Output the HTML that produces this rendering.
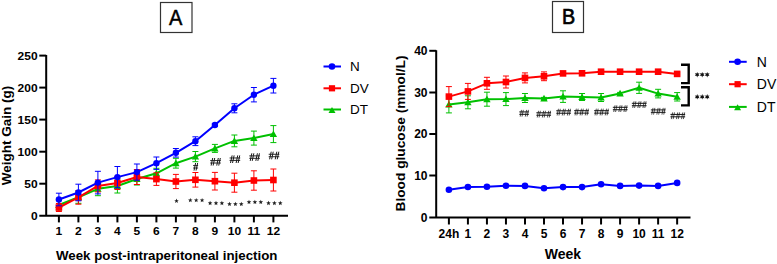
<!DOCTYPE html>
<html><head><meta charset="utf-8"><style>
html,body{margin:0;padding:0;background:#fff;}
svg{display:block;}
text{font-family:"Liberation Sans",sans-serif;fill:#000;}
.tk{font-size:12px;font-weight:bold;}
.ttl{font-size:13px;font-weight:bold;}
.lg{font-size:13.5px;}
.hs{font-size:10px;font-weight:bold;}
.hb{font-size:9px;font-weight:bold;}
.as{font-size:14px;}
.ab{font-size:14px;font-weight:bold;}
.box{font-size:21px;}
</style></head><body>
<svg width="777" height="264" viewBox="0 0 777 264">
<path d="M46.2 55 V215.7 M39.3 215.7 H288" stroke="#000" stroke-width="2" fill="none"/><line x1="39.3" y1="55.6" x2="46.2" y2="55.6" stroke="#000" stroke-width="2"/><text transform="translate(37.6,59.6) scale(1,0.9)" class="tk" text-anchor="end">250</text><line x1="39.3" y1="87.6" x2="46.2" y2="87.6" stroke="#000" stroke-width="2"/><text transform="translate(37.6,91.6) scale(1,0.9)" class="tk" text-anchor="end">200</text><line x1="39.3" y1="119.6" x2="46.2" y2="119.6" stroke="#000" stroke-width="2"/><text transform="translate(37.6,123.6) scale(1,0.9)" class="tk" text-anchor="end">150</text><line x1="39.3" y1="151.7" x2="46.2" y2="151.7" stroke="#000" stroke-width="2"/><text transform="translate(37.6,155.7) scale(1,0.9)" class="tk" text-anchor="end">100</text><line x1="39.3" y1="183.7" x2="46.2" y2="183.7" stroke="#000" stroke-width="2"/><text transform="translate(37.6,187.7) scale(1,0.9)" class="tk" text-anchor="end">50</text><text transform="translate(37.6,219.7) scale(1,0.9)" class="tk" text-anchor="end">0</text><line x1="58.90" y1="215.7" x2="58.90" y2="222.4" stroke="#000" stroke-width="2"/><text transform="translate(58.90,235.0) scale(1,0.9)" class="tk" text-anchor="middle">1</text><line x1="78.40" y1="215.7" x2="78.40" y2="222.4" stroke="#000" stroke-width="2"/><text transform="translate(78.40,235.0) scale(1,0.9)" class="tk" text-anchor="middle">2</text><line x1="97.90" y1="215.7" x2="97.90" y2="222.4" stroke="#000" stroke-width="2"/><text transform="translate(97.90,235.0) scale(1,0.9)" class="tk" text-anchor="middle">3</text><line x1="117.40" y1="215.7" x2="117.40" y2="222.4" stroke="#000" stroke-width="2"/><text transform="translate(117.40,235.0) scale(1,0.9)" class="tk" text-anchor="middle">4</text><line x1="136.90" y1="215.7" x2="136.90" y2="222.4" stroke="#000" stroke-width="2"/><text transform="translate(136.90,235.0) scale(1,0.9)" class="tk" text-anchor="middle">5</text><line x1="156.40" y1="215.7" x2="156.40" y2="222.4" stroke="#000" stroke-width="2"/><text transform="translate(156.40,235.0) scale(1,0.9)" class="tk" text-anchor="middle">6</text><line x1="175.90" y1="215.7" x2="175.90" y2="222.4" stroke="#000" stroke-width="2"/><text transform="translate(175.90,235.0) scale(1,0.9)" class="tk" text-anchor="middle">7</text><line x1="195.40" y1="215.7" x2="195.40" y2="222.4" stroke="#000" stroke-width="2"/><text transform="translate(195.40,235.0) scale(1,0.9)" class="tk" text-anchor="middle">8</text><line x1="214.90" y1="215.7" x2="214.90" y2="222.4" stroke="#000" stroke-width="2"/><text transform="translate(214.90,235.0) scale(1,0.9)" class="tk" text-anchor="middle">9</text><line x1="234.40" y1="215.7" x2="234.40" y2="222.4" stroke="#000" stroke-width="2"/><text transform="translate(234.40,235.0) scale(1,0.9)" class="tk" text-anchor="middle">10</text><line x1="253.90" y1="215.7" x2="253.90" y2="222.4" stroke="#000" stroke-width="2"/><text transform="translate(253.90,235.0) scale(1,0.9)" class="tk" text-anchor="middle">11</text><line x1="273.40" y1="215.7" x2="273.40" y2="222.4" stroke="#000" stroke-width="2"/><text transform="translate(273.40,235.0) scale(1,0.9)" class="tk" text-anchor="middle">12</text><text x="56" y="259.6" class="ttl" style="font-size:13.3px">Week post-intraperitoneal injection</text><text transform="translate(11,135.6) rotate(-90)" class="ttl" style="font-size:13.5px" text-anchor="middle">Weight Gain (g)</text><line x1="58.90" y1="200.00" x2="58.90" y2="210.00" stroke="#00c000" stroke-width="1"/><line x1="55.90" y1="200.00" x2="61.90" y2="200.00" stroke="#00c000" stroke-width="1"/><line x1="55.90" y1="210.00" x2="61.90" y2="210.00" stroke="#00c000" stroke-width="1"/><line x1="78.40" y1="191.30" x2="78.40" y2="203.30" stroke="#00c000" stroke-width="1"/><line x1="75.40" y1="191.30" x2="81.40" y2="191.30" stroke="#00c000" stroke-width="1"/><line x1="75.40" y1="203.30" x2="81.40" y2="203.30" stroke="#00c000" stroke-width="1"/><line x1="97.90" y1="181.90" x2="97.90" y2="195.70" stroke="#00c000" stroke-width="1"/><line x1="94.90" y1="181.90" x2="100.90" y2="181.90" stroke="#00c000" stroke-width="1"/><line x1="94.90" y1="195.70" x2="100.90" y2="195.70" stroke="#00c000" stroke-width="1"/><line x1="117.40" y1="179.00" x2="117.40" y2="193.00" stroke="#00c000" stroke-width="1"/><line x1="114.40" y1="179.00" x2="120.40" y2="179.00" stroke="#00c000" stroke-width="1"/><line x1="114.40" y1="193.00" x2="120.40" y2="193.00" stroke="#00c000" stroke-width="1"/><line x1="136.90" y1="173.00" x2="136.90" y2="185.00" stroke="#00c000" stroke-width="1"/><line x1="133.90" y1="173.00" x2="139.90" y2="173.00" stroke="#00c000" stroke-width="1"/><line x1="133.90" y1="185.00" x2="139.90" y2="185.00" stroke="#00c000" stroke-width="1"/><line x1="156.40" y1="168.30" x2="156.40" y2="178.30" stroke="#00c000" stroke-width="1"/><line x1="153.40" y1="168.30" x2="159.40" y2="168.30" stroke="#00c000" stroke-width="1"/><line x1="153.40" y1="178.30" x2="159.40" y2="178.30" stroke="#00c000" stroke-width="1"/><line x1="175.90" y1="158.30" x2="175.90" y2="168.10" stroke="#00c000" stroke-width="1"/><line x1="172.90" y1="158.30" x2="178.90" y2="158.30" stroke="#00c000" stroke-width="1"/><line x1="172.90" y1="168.10" x2="178.90" y2="168.10" stroke="#00c000" stroke-width="1"/><line x1="195.40" y1="151.50" x2="195.40" y2="161.70" stroke="#00c000" stroke-width="1"/><line x1="192.40" y1="151.50" x2="198.40" y2="151.50" stroke="#00c000" stroke-width="1"/><line x1="192.40" y1="161.70" x2="198.40" y2="161.70" stroke="#00c000" stroke-width="1"/><line x1="214.90" y1="144.40" x2="214.90" y2="152.40" stroke="#00c000" stroke-width="1"/><line x1="211.90" y1="144.40" x2="217.90" y2="144.40" stroke="#00c000" stroke-width="1"/><line x1="211.90" y1="152.40" x2="217.90" y2="152.40" stroke="#00c000" stroke-width="1"/><line x1="234.40" y1="135.00" x2="234.40" y2="146.80" stroke="#00c000" stroke-width="1"/><line x1="231.40" y1="135.00" x2="237.40" y2="135.00" stroke="#00c000" stroke-width="1"/><line x1="231.40" y1="146.80" x2="237.40" y2="146.80" stroke="#00c000" stroke-width="1"/><line x1="253.90" y1="131.10" x2="253.90" y2="145.10" stroke="#00c000" stroke-width="1"/><line x1="250.90" y1="131.10" x2="256.90" y2="131.10" stroke="#00c000" stroke-width="1"/><line x1="250.90" y1="145.10" x2="256.90" y2="145.10" stroke="#00c000" stroke-width="1"/><line x1="273.40" y1="125.60" x2="273.40" y2="142.60" stroke="#00c000" stroke-width="1"/><line x1="270.40" y1="125.60" x2="276.40" y2="125.60" stroke="#00c000" stroke-width="1"/><line x1="270.40" y1="142.60" x2="276.40" y2="142.60" stroke="#00c000" stroke-width="1"/><polyline points="58.90,205.00 78.40,197.30 97.90,188.80 117.40,186.00 136.90,179.00 156.40,173.30 175.90,163.20 195.40,156.60 214.90,148.40 234.40,140.90 253.90,138.10 273.40,134.10" fill="none" stroke="#00c000" stroke-width="2.0" stroke-linejoin="round"/><polygon points="55.20,208.00 62.60,208.00 58.90,201.40" fill="#00c000"/><polygon points="74.70,200.30 82.10,200.30 78.40,193.70" fill="#00c000"/><polygon points="94.20,191.80 101.60,191.80 97.90,185.20" fill="#00c000"/><polygon points="113.70,189.00 121.10,189.00 117.40,182.40" fill="#00c000"/><polygon points="133.20,182.00 140.60,182.00 136.90,175.40" fill="#00c000"/><polygon points="152.70,176.30 160.10,176.30 156.40,169.70" fill="#00c000"/><polygon points="172.20,166.20 179.60,166.20 175.90,159.60" fill="#00c000"/><polygon points="191.70,159.60 199.10,159.60 195.40,153.00" fill="#00c000"/><polygon points="211.20,151.40 218.60,151.40 214.90,144.80" fill="#00c000"/><polygon points="230.70,143.90 238.10,143.90 234.40,137.30" fill="#00c000"/><polygon points="250.20,141.10 257.60,141.10 253.90,134.50" fill="#00c000"/><polygon points="269.70,137.10 277.10,137.10 273.40,130.50" fill="#00c000"/><line x1="58.90" y1="203.50" x2="58.90" y2="211.50" stroke="#ff0000" stroke-width="1"/><line x1="55.90" y1="203.50" x2="61.90" y2="203.50" stroke="#ff0000" stroke-width="1"/><line x1="55.90" y1="211.50" x2="61.90" y2="211.50" stroke="#ff0000" stroke-width="1"/><line x1="78.40" y1="190.60" x2="78.40" y2="204.20" stroke="#ff0000" stroke-width="1"/><line x1="75.40" y1="190.60" x2="81.40" y2="190.60" stroke="#ff0000" stroke-width="1"/><line x1="75.40" y1="204.20" x2="81.40" y2="204.20" stroke="#ff0000" stroke-width="1"/><line x1="97.90" y1="179.90" x2="97.90" y2="191.90" stroke="#ff0000" stroke-width="1"/><line x1="94.90" y1="179.90" x2="100.90" y2="179.90" stroke="#ff0000" stroke-width="1"/><line x1="94.90" y1="191.90" x2="100.90" y2="191.90" stroke="#ff0000" stroke-width="1"/><line x1="117.40" y1="176.50" x2="117.40" y2="189.50" stroke="#ff0000" stroke-width="1"/><line x1="114.40" y1="176.50" x2="120.40" y2="176.50" stroke="#ff0000" stroke-width="1"/><line x1="114.40" y1="189.50" x2="120.40" y2="189.50" stroke="#ff0000" stroke-width="1"/><line x1="136.90" y1="169.50" x2="136.90" y2="184.50" stroke="#ff0000" stroke-width="1"/><line x1="133.90" y1="169.50" x2="139.90" y2="169.50" stroke="#ff0000" stroke-width="1"/><line x1="133.90" y1="184.50" x2="139.90" y2="184.50" stroke="#ff0000" stroke-width="1"/><line x1="156.40" y1="172.80" x2="156.40" y2="185.40" stroke="#ff0000" stroke-width="1"/><line x1="153.40" y1="172.80" x2="159.40" y2="172.80" stroke="#ff0000" stroke-width="1"/><line x1="153.40" y1="185.40" x2="159.40" y2="185.40" stroke="#ff0000" stroke-width="1"/><line x1="175.90" y1="174.40" x2="175.90" y2="188.60" stroke="#ff0000" stroke-width="1"/><line x1="172.90" y1="174.40" x2="178.90" y2="174.40" stroke="#ff0000" stroke-width="1"/><line x1="172.90" y1="188.60" x2="178.90" y2="188.60" stroke="#ff0000" stroke-width="1"/><line x1="195.40" y1="172.50" x2="195.40" y2="187.10" stroke="#ff0000" stroke-width="1"/><line x1="192.40" y1="172.50" x2="198.40" y2="172.50" stroke="#ff0000" stroke-width="1"/><line x1="192.40" y1="187.10" x2="198.40" y2="187.10" stroke="#ff0000" stroke-width="1"/><line x1="214.90" y1="172.40" x2="214.90" y2="190.00" stroke="#ff0000" stroke-width="1"/><line x1="211.90" y1="172.40" x2="217.90" y2="172.40" stroke="#ff0000" stroke-width="1"/><line x1="211.90" y1="190.00" x2="217.90" y2="190.00" stroke="#ff0000" stroke-width="1"/><line x1="234.40" y1="173.20" x2="234.40" y2="192.20" stroke="#ff0000" stroke-width="1"/><line x1="231.40" y1="173.20" x2="237.40" y2="173.20" stroke="#ff0000" stroke-width="1"/><line x1="231.40" y1="192.20" x2="237.40" y2="192.20" stroke="#ff0000" stroke-width="1"/><line x1="253.90" y1="170.80" x2="253.90" y2="190.20" stroke="#ff0000" stroke-width="1"/><line x1="250.90" y1="170.80" x2="256.90" y2="170.80" stroke="#ff0000" stroke-width="1"/><line x1="250.90" y1="190.20" x2="256.90" y2="190.20" stroke="#ff0000" stroke-width="1"/><line x1="273.40" y1="169.00" x2="273.40" y2="191.00" stroke="#ff0000" stroke-width="1"/><line x1="270.40" y1="169.00" x2="276.40" y2="169.00" stroke="#ff0000" stroke-width="1"/><line x1="270.40" y1="191.00" x2="276.40" y2="191.00" stroke="#ff0000" stroke-width="1"/><polyline points="58.90,207.50 78.40,197.40 97.90,185.90 117.40,183.00 136.90,177.00 156.40,179.10 175.90,181.50 195.40,179.80 214.90,181.20 234.40,182.70 253.90,180.50 273.40,180.00" fill="none" stroke="#ff0000" stroke-width="2.0" stroke-linejoin="round"/><rect x="55.60" y="204.20" width="6.6" height="6.6" fill="#ff0000"/><rect x="75.10" y="194.10" width="6.6" height="6.6" fill="#ff0000"/><rect x="94.60" y="182.60" width="6.6" height="6.6" fill="#ff0000"/><rect x="114.10" y="179.70" width="6.6" height="6.6" fill="#ff0000"/><rect x="133.60" y="173.70" width="6.6" height="6.6" fill="#ff0000"/><rect x="153.10" y="175.80" width="6.6" height="6.6" fill="#ff0000"/><rect x="172.60" y="178.20" width="6.6" height="6.6" fill="#ff0000"/><rect x="192.10" y="176.50" width="6.6" height="6.6" fill="#ff0000"/><rect x="211.60" y="177.90" width="6.6" height="6.6" fill="#ff0000"/><rect x="231.10" y="179.40" width="6.6" height="6.6" fill="#ff0000"/><rect x="250.60" y="177.20" width="6.6" height="6.6" fill="#ff0000"/><rect x="270.10" y="176.70" width="6.6" height="6.6" fill="#ff0000"/><line x1="58.90" y1="193.20" x2="58.90" y2="205.80" stroke="#0000ff" stroke-width="1"/><line x1="55.90" y1="193.20" x2="61.90" y2="193.20" stroke="#0000ff" stroke-width="1"/><line x1="55.90" y1="205.80" x2="61.90" y2="205.80" stroke="#0000ff" stroke-width="1"/><line x1="78.40" y1="184.20" x2="78.40" y2="200.80" stroke="#0000ff" stroke-width="1"/><line x1="75.40" y1="184.20" x2="81.40" y2="184.20" stroke="#0000ff" stroke-width="1"/><line x1="75.40" y1="200.80" x2="81.40" y2="200.80" stroke="#0000ff" stroke-width="1"/><line x1="97.90" y1="171.30" x2="97.90" y2="193.90" stroke="#0000ff" stroke-width="1"/><line x1="94.90" y1="171.30" x2="100.90" y2="171.30" stroke="#0000ff" stroke-width="1"/><line x1="94.90" y1="193.90" x2="100.90" y2="193.90" stroke="#0000ff" stroke-width="1"/><line x1="117.40" y1="166.50" x2="117.40" y2="187.70" stroke="#0000ff" stroke-width="1"/><line x1="114.40" y1="166.50" x2="120.40" y2="166.50" stroke="#0000ff" stroke-width="1"/><line x1="114.40" y1="187.70" x2="120.40" y2="187.70" stroke="#0000ff" stroke-width="1"/><line x1="136.90" y1="164.00" x2="136.90" y2="180.20" stroke="#0000ff" stroke-width="1"/><line x1="133.90" y1="164.00" x2="139.90" y2="164.00" stroke="#0000ff" stroke-width="1"/><line x1="133.90" y1="180.20" x2="139.90" y2="180.20" stroke="#0000ff" stroke-width="1"/><line x1="156.40" y1="157.00" x2="156.40" y2="169.40" stroke="#0000ff" stroke-width="1"/><line x1="153.40" y1="157.00" x2="159.40" y2="157.00" stroke="#0000ff" stroke-width="1"/><line x1="153.40" y1="169.40" x2="159.40" y2="169.40" stroke="#0000ff" stroke-width="1"/><line x1="175.90" y1="148.50" x2="175.90" y2="157.10" stroke="#0000ff" stroke-width="1"/><line x1="172.90" y1="148.50" x2="178.90" y2="148.50" stroke="#0000ff" stroke-width="1"/><line x1="172.90" y1="157.10" x2="178.90" y2="157.10" stroke="#0000ff" stroke-width="1"/><line x1="195.40" y1="136.80" x2="195.40" y2="145.60" stroke="#0000ff" stroke-width="1"/><line x1="192.40" y1="136.80" x2="198.40" y2="136.80" stroke="#0000ff" stroke-width="1"/><line x1="192.40" y1="145.60" x2="198.40" y2="145.60" stroke="#0000ff" stroke-width="1"/><line x1="214.90" y1="123.50" x2="214.90" y2="126.50" stroke="#0000ff" stroke-width="1"/><line x1="211.90" y1="123.50" x2="217.90" y2="123.50" stroke="#0000ff" stroke-width="1"/><line x1="211.90" y1="126.50" x2="217.90" y2="126.50" stroke="#0000ff" stroke-width="1"/><line x1="234.40" y1="103.80" x2="234.40" y2="112.80" stroke="#0000ff" stroke-width="1"/><line x1="231.40" y1="103.80" x2="237.40" y2="103.80" stroke="#0000ff" stroke-width="1"/><line x1="231.40" y1="112.80" x2="237.40" y2="112.80" stroke="#0000ff" stroke-width="1"/><line x1="253.90" y1="87.50" x2="253.90" y2="101.90" stroke="#0000ff" stroke-width="1"/><line x1="250.90" y1="87.50" x2="256.90" y2="87.50" stroke="#0000ff" stroke-width="1"/><line x1="250.90" y1="101.90" x2="256.90" y2="101.90" stroke="#0000ff" stroke-width="1"/><line x1="273.40" y1="78.40" x2="273.40" y2="93.00" stroke="#0000ff" stroke-width="1"/><line x1="270.40" y1="78.40" x2="276.40" y2="78.40" stroke="#0000ff" stroke-width="1"/><line x1="270.40" y1="93.00" x2="276.40" y2="93.00" stroke="#0000ff" stroke-width="1"/><polyline points="58.90,199.50 78.40,192.50 97.90,182.60 117.40,177.10 136.90,172.10 156.40,163.20 175.90,152.80 195.40,141.20 214.90,125.00 234.40,108.30 253.90,94.70 273.40,85.70" fill="none" stroke="#0000ff" stroke-width="2.0" stroke-linejoin="round"/><circle cx="58.90" cy="199.50" r="3.2" fill="#0000ff"/><circle cx="78.40" cy="192.50" r="3.2" fill="#0000ff"/><circle cx="97.90" cy="182.60" r="3.2" fill="#0000ff"/><circle cx="117.40" cy="177.10" r="3.2" fill="#0000ff"/><circle cx="136.90" cy="172.10" r="3.2" fill="#0000ff"/><circle cx="156.40" cy="163.20" r="3.2" fill="#0000ff"/><circle cx="175.90" cy="152.80" r="3.2" fill="#0000ff"/><circle cx="195.40" cy="141.20" r="3.2" fill="#0000ff"/><circle cx="214.90" cy="125.00" r="3.2" fill="#0000ff"/><circle cx="234.40" cy="108.30" r="3.2" fill="#0000ff"/><circle cx="253.90" cy="94.70" r="3.2" fill="#0000ff"/><circle cx="273.40" cy="85.70" r="3.2" fill="#0000ff"/><line x1="194.02" y1="170.60" x2="195.62" y2="163.00" stroke="#1a1a1a" stroke-width="1.0"/><line x1="196.03" y1="170.60" x2="197.63" y2="163.00" stroke="#1a1a1a" stroke-width="1.0"/><line x1="193.10" y1="165.58" x2="198.10" y2="165.58" stroke="#1a1a1a" stroke-width="0.95"/><line x1="193.10" y1="168.02" x2="198.10" y2="168.02" stroke="#1a1a1a" stroke-width="0.95"/><line x1="211.12" y1="165.60" x2="212.72" y2="158.00" stroke="#1a1a1a" stroke-width="1.0"/><line x1="213.13" y1="165.60" x2="214.73" y2="158.00" stroke="#1a1a1a" stroke-width="1.0"/><line x1="216.72" y1="165.60" x2="218.32" y2="158.00" stroke="#1a1a1a" stroke-width="1.0"/><line x1="218.73" y1="165.60" x2="220.33" y2="158.00" stroke="#1a1a1a" stroke-width="1.0"/><line x1="210.20" y1="160.58" x2="220.80" y2="160.58" stroke="#1a1a1a" stroke-width="0.95"/><line x1="210.20" y1="163.02" x2="220.80" y2="163.02" stroke="#1a1a1a" stroke-width="0.95"/><line x1="230.52" y1="163.00" x2="232.12" y2="155.40" stroke="#1a1a1a" stroke-width="1.0"/><line x1="232.53" y1="163.00" x2="234.13" y2="155.40" stroke="#1a1a1a" stroke-width="1.0"/><line x1="236.12" y1="163.00" x2="237.72" y2="155.40" stroke="#1a1a1a" stroke-width="1.0"/><line x1="238.13" y1="163.00" x2="239.73" y2="155.40" stroke="#1a1a1a" stroke-width="1.0"/><line x1="229.60" y1="157.98" x2="240.20" y2="157.98" stroke="#1a1a1a" stroke-width="0.95"/><line x1="229.60" y1="160.42" x2="240.20" y2="160.42" stroke="#1a1a1a" stroke-width="0.95"/><line x1="250.22" y1="160.90" x2="251.82" y2="153.30" stroke="#1a1a1a" stroke-width="1.0"/><line x1="252.23" y1="160.90" x2="253.83" y2="153.30" stroke="#1a1a1a" stroke-width="1.0"/><line x1="255.82" y1="160.90" x2="257.42" y2="153.30" stroke="#1a1a1a" stroke-width="1.0"/><line x1="257.83" y1="160.90" x2="259.43" y2="153.30" stroke="#1a1a1a" stroke-width="1.0"/><line x1="249.30" y1="155.88" x2="259.90" y2="155.88" stroke="#1a1a1a" stroke-width="0.95"/><line x1="249.30" y1="158.32" x2="259.90" y2="158.32" stroke="#1a1a1a" stroke-width="0.95"/><line x1="269.62" y1="159.30" x2="271.22" y2="151.70" stroke="#1a1a1a" stroke-width="1.0"/><line x1="271.63" y1="159.30" x2="273.23" y2="151.70" stroke="#1a1a1a" stroke-width="1.0"/><line x1="275.22" y1="159.30" x2="276.82" y2="151.70" stroke="#1a1a1a" stroke-width="1.0"/><line x1="277.23" y1="159.30" x2="278.83" y2="151.70" stroke="#1a1a1a" stroke-width="1.0"/><line x1="268.70" y1="154.28" x2="279.30" y2="154.28" stroke="#1a1a1a" stroke-width="0.95"/><line x1="268.70" y1="156.72" x2="279.30" y2="156.72" stroke="#1a1a1a" stroke-width="0.95"/><polygon points="176.50,198.60 177.12,200.15 178.78,200.26 177.50,201.32 177.91,202.94 176.50,202.05 175.09,202.94 175.50,201.32 174.22,200.26 175.88,200.15" fill="#222"/><polygon points="190.30,197.90 190.92,199.45 192.58,199.56 191.30,200.62 191.71,202.24 190.30,201.35 188.89,202.24 189.30,200.62 188.02,199.56 189.68,199.45" fill="#222"/><polygon points="196.20,197.90 196.82,199.45 198.48,199.56 197.20,200.62 197.61,202.24 196.20,201.35 194.79,202.24 195.20,200.62 193.92,199.56 195.58,199.45" fill="#222"/><polygon points="202.10,197.90 202.72,199.45 204.38,199.56 203.10,200.62 203.51,202.24 202.10,201.35 200.69,202.24 201.10,200.62 199.82,199.56 201.48,199.45" fill="#222"/><polygon points="210.10,200.80 210.72,202.35 212.38,202.46 211.10,203.52 211.51,205.14 210.10,204.25 208.69,205.14 209.10,203.52 207.82,202.46 209.48,202.35" fill="#222"/><polygon points="216.00,200.80 216.62,202.35 218.28,202.46 217.00,203.52 217.41,205.14 216.00,204.25 214.59,205.14 215.00,203.52 213.72,202.46 215.38,202.35" fill="#222"/><polygon points="221.90,200.80 222.52,202.35 224.18,202.46 222.90,203.52 223.31,205.14 221.90,204.25 220.49,205.14 220.90,203.52 219.62,202.46 221.28,202.35" fill="#222"/><polygon points="229.50,201.70 230.12,203.25 231.78,203.36 230.50,204.42 230.91,206.04 229.50,205.15 228.09,206.04 228.50,204.42 227.22,203.36 228.88,203.25" fill="#222"/><polygon points="235.40,201.70 236.02,203.25 237.68,203.36 236.40,204.42 236.81,206.04 235.40,205.15 233.99,206.04 234.40,204.42 233.12,203.36 234.78,203.25" fill="#222"/><polygon points="241.30,201.70 241.92,203.25 243.58,203.36 242.30,204.42 242.71,206.04 241.30,205.15 239.89,206.04 240.30,204.42 239.02,203.36 240.68,203.25" fill="#222"/><polygon points="249.00,199.70 249.62,201.25 251.28,201.36 250.00,202.42 250.41,204.04 249.00,203.15 247.59,204.04 248.00,202.42 246.72,201.36 248.38,201.25" fill="#222"/><polygon points="254.90,199.70 255.52,201.25 257.18,201.36 255.90,202.42 256.31,204.04 254.90,203.15 253.49,204.04 253.90,202.42 252.62,201.36 254.28,201.25" fill="#222"/><polygon points="260.80,199.70 261.42,201.25 263.08,201.36 261.80,202.42 262.21,204.04 260.80,203.15 259.39,204.04 259.80,202.42 258.52,201.36 260.18,201.25" fill="#222"/><polygon points="268.50,200.80 269.12,202.35 270.78,202.46 269.50,203.52 269.91,205.14 268.50,204.25 267.09,205.14 267.50,203.52 266.22,202.46 267.88,202.35" fill="#222"/><polygon points="274.40,200.80 275.02,202.35 276.68,202.46 275.40,203.52 275.81,205.14 274.40,204.25 272.99,205.14 273.40,203.52 272.12,202.46 273.78,202.35" fill="#222"/><polygon points="280.30,200.80 280.92,202.35 282.58,202.46 281.30,203.52 281.71,205.14 280.30,204.25 278.89,205.14 279.30,203.52 278.02,202.46 279.68,202.35" fill="#222"/><line x1="323.5" y1="66.5" x2="341" y2="66.5" stroke="#0000ff" stroke-width="2"/><circle cx="332.00" cy="66.50" r="3.3" fill="#0000ff"/><text x="350" y="71.3" class="lg">N</text><line x1="323.5" y1="88.3" x2="341" y2="88.3" stroke="#ff0000" stroke-width="2"/><rect x="328.90" y="85.20" width="6.2" height="6.2" fill="#ff0000"/><text x="350" y="93.1" class="lg">DV</text><line x1="323.5" y1="109.5" x2="341" y2="109.5" stroke="#00c000" stroke-width="2"/><polygon points="328.50,112.90 335.50,112.90 332.00,106.90" fill="#00c000"/><text x="350" y="114.3" class="lg">DT</text><rect x="160.5" y="2.5" width="31.5" height="30" fill="none" stroke="#333" stroke-width="1.2"/><text x="0" y="0" transform="translate(175.6,24.5) scale(0.93,1)" class="box" style="font-size:21.5px;stroke:#000;stroke-width:0.5" text-anchor="middle">A</text>
<path d="M436.2 50.2 V217.4 M429.3 217.4 H690.5" stroke="#000" stroke-width="2" fill="none"/><line x1="429.3" y1="50.8" x2="436.2" y2="50.8" stroke="#000" stroke-width="2"/><text x="427.5" y="55.1" class="tk" text-anchor="end">40</text><line x1="429.3" y1="92.5" x2="436.2" y2="92.5" stroke="#000" stroke-width="2"/><text x="427.5" y="96.8" class="tk" text-anchor="end">30</text><line x1="429.3" y1="134.0" x2="436.2" y2="134.0" stroke="#000" stroke-width="2"/><text x="427.5" y="138.3" class="tk" text-anchor="end">20</text><line x1="429.3" y1="175.5" x2="436.2" y2="175.5" stroke="#000" stroke-width="2"/><text x="427.5" y="179.8" class="tk" text-anchor="end">10</text><text x="427.5" y="221.7" class="tk" text-anchor="end">0</text><line x1="448.90" y1="217.4" x2="448.90" y2="224.5" stroke="#000" stroke-width="2"/><text x="448.90" y="237.6" class="tk" text-anchor="middle">24h</text><line x1="467.92" y1="217.4" x2="467.92" y2="224.5" stroke="#000" stroke-width="2"/><text x="467.92" y="237.6" class="tk" text-anchor="middle">1</text><line x1="486.94" y1="217.4" x2="486.94" y2="224.5" stroke="#000" stroke-width="2"/><text x="486.94" y="237.6" class="tk" text-anchor="middle">2</text><line x1="505.96" y1="217.4" x2="505.96" y2="224.5" stroke="#000" stroke-width="2"/><text x="505.96" y="237.6" class="tk" text-anchor="middle">3</text><line x1="524.98" y1="217.4" x2="524.98" y2="224.5" stroke="#000" stroke-width="2"/><text x="524.98" y="237.6" class="tk" text-anchor="middle">4</text><line x1="544.00" y1="217.4" x2="544.00" y2="224.5" stroke="#000" stroke-width="2"/><text x="544.00" y="237.6" class="tk" text-anchor="middle">5</text><line x1="563.02" y1="217.4" x2="563.02" y2="224.5" stroke="#000" stroke-width="2"/><text x="563.02" y="237.6" class="tk" text-anchor="middle">6</text><line x1="582.04" y1="217.4" x2="582.04" y2="224.5" stroke="#000" stroke-width="2"/><text x="582.04" y="237.6" class="tk" text-anchor="middle">7</text><line x1="601.06" y1="217.4" x2="601.06" y2="224.5" stroke="#000" stroke-width="2"/><text x="601.06" y="237.6" class="tk" text-anchor="middle">8</text><line x1="620.08" y1="217.4" x2="620.08" y2="224.5" stroke="#000" stroke-width="2"/><text x="620.08" y="237.6" class="tk" text-anchor="middle">9</text><line x1="639.10" y1="217.4" x2="639.10" y2="224.5" stroke="#000" stroke-width="2"/><text x="639.10" y="237.6" class="tk" text-anchor="middle">10</text><line x1="658.12" y1="217.4" x2="658.12" y2="224.5" stroke="#000" stroke-width="2"/><text x="658.12" y="237.6" class="tk" text-anchor="middle">11</text><line x1="677.14" y1="217.4" x2="677.14" y2="224.5" stroke="#000" stroke-width="2"/><text x="677.14" y="237.6" class="tk" text-anchor="middle">12</text><text x="563" y="258.6" class="ttl" style="font-size:14px" text-anchor="middle">Week</text><text transform="translate(405.3,133.5) rotate(-90)" class="ttl" style="font-size:13.7px" text-anchor="middle">Blood glucose (mmol/L)</text><line x1="448.90" y1="95.90" x2="448.90" y2="112.90" stroke="#00c000" stroke-width="1"/><line x1="445.90" y1="95.90" x2="451.90" y2="95.90" stroke="#00c000" stroke-width="1"/><line x1="445.90" y1="112.90" x2="451.90" y2="112.90" stroke="#00c000" stroke-width="1"/><line x1="467.92" y1="95.80" x2="467.92" y2="108.80" stroke="#00c000" stroke-width="1"/><line x1="464.92" y1="95.80" x2="470.92" y2="95.80" stroke="#00c000" stroke-width="1"/><line x1="464.92" y1="108.80" x2="470.92" y2="108.80" stroke="#00c000" stroke-width="1"/><line x1="486.94" y1="92.20" x2="486.94" y2="106.20" stroke="#00c000" stroke-width="1"/><line x1="483.94" y1="92.20" x2="489.94" y2="92.20" stroke="#00c000" stroke-width="1"/><line x1="483.94" y1="106.20" x2="489.94" y2="106.20" stroke="#00c000" stroke-width="1"/><line x1="505.96" y1="92.60" x2="505.96" y2="105.60" stroke="#00c000" stroke-width="1"/><line x1="502.96" y1="92.60" x2="508.96" y2="92.60" stroke="#00c000" stroke-width="1"/><line x1="502.96" y1="105.60" x2="508.96" y2="105.60" stroke="#00c000" stroke-width="1"/><line x1="524.98" y1="93.50" x2="524.98" y2="102.50" stroke="#00c000" stroke-width="1"/><line x1="521.98" y1="93.50" x2="527.98" y2="93.50" stroke="#00c000" stroke-width="1"/><line x1="521.98" y1="102.50" x2="527.98" y2="102.50" stroke="#00c000" stroke-width="1"/><line x1="544.00" y1="97.40" x2="544.00" y2="99.40" stroke="#00c000" stroke-width="1"/><line x1="541.00" y1="97.40" x2="547.00" y2="97.40" stroke="#00c000" stroke-width="1"/><line x1="541.00" y1="99.40" x2="547.00" y2="99.40" stroke="#00c000" stroke-width="1"/><line x1="563.02" y1="90.80" x2="563.02" y2="102.40" stroke="#00c000" stroke-width="1"/><line x1="560.02" y1="90.80" x2="566.02" y2="90.80" stroke="#00c000" stroke-width="1"/><line x1="560.02" y1="102.40" x2="566.02" y2="102.40" stroke="#00c000" stroke-width="1"/><line x1="582.04" y1="93.50" x2="582.04" y2="100.50" stroke="#00c000" stroke-width="1"/><line x1="579.04" y1="93.50" x2="585.04" y2="93.50" stroke="#00c000" stroke-width="1"/><line x1="579.04" y1="100.50" x2="585.04" y2="100.50" stroke="#00c000" stroke-width="1"/><line x1="601.06" y1="93.50" x2="601.06" y2="101.50" stroke="#00c000" stroke-width="1"/><line x1="598.06" y1="93.50" x2="604.06" y2="93.50" stroke="#00c000" stroke-width="1"/><line x1="598.06" y1="101.50" x2="604.06" y2="101.50" stroke="#00c000" stroke-width="1"/><line x1="620.08" y1="92.40" x2="620.08" y2="94.40" stroke="#00c000" stroke-width="1"/><line x1="617.08" y1="92.40" x2="623.08" y2="92.40" stroke="#00c000" stroke-width="1"/><line x1="617.08" y1="94.40" x2="623.08" y2="94.40" stroke="#00c000" stroke-width="1"/><line x1="639.10" y1="82.20" x2="639.10" y2="93.40" stroke="#00c000" stroke-width="1"/><line x1="636.10" y1="82.20" x2="642.10" y2="82.20" stroke="#00c000" stroke-width="1"/><line x1="636.10" y1="93.40" x2="642.10" y2="93.40" stroke="#00c000" stroke-width="1"/><line x1="658.12" y1="89.30" x2="658.12" y2="97.90" stroke="#00c000" stroke-width="1"/><line x1="655.12" y1="89.30" x2="661.12" y2="89.30" stroke="#00c000" stroke-width="1"/><line x1="655.12" y1="97.90" x2="661.12" y2="97.90" stroke="#00c000" stroke-width="1"/><line x1="677.14" y1="92.60" x2="677.14" y2="101.00" stroke="#00c000" stroke-width="1"/><line x1="674.14" y1="92.60" x2="680.14" y2="92.60" stroke="#00c000" stroke-width="1"/><line x1="674.14" y1="101.00" x2="680.14" y2="101.00" stroke="#00c000" stroke-width="1"/><polyline points="448.90,104.40 467.92,102.30 486.94,99.20 505.96,99.10 524.98,98.00 544.00,98.40 563.02,96.60 582.04,97.00 601.06,97.50 620.08,93.40 639.10,87.80 658.12,93.60 677.14,96.80" fill="none" stroke="#00c000" stroke-width="2.0" stroke-linejoin="round"/><polygon points="445.20,107.40 452.60,107.40 448.90,100.80" fill="#00c000"/><polygon points="464.22,105.30 471.62,105.30 467.92,98.70" fill="#00c000"/><polygon points="483.24,102.20 490.64,102.20 486.94,95.60" fill="#00c000"/><polygon points="502.26,102.10 509.66,102.10 505.96,95.50" fill="#00c000"/><polygon points="521.28,101.00 528.68,101.00 524.98,94.40" fill="#00c000"/><polygon points="540.30,101.40 547.70,101.40 544.00,94.80" fill="#00c000"/><polygon points="559.32,99.60 566.72,99.60 563.02,93.00" fill="#00c000"/><polygon points="578.34,100.00 585.74,100.00 582.04,93.40" fill="#00c000"/><polygon points="597.36,100.50 604.76,100.50 601.06,93.90" fill="#00c000"/><polygon points="616.38,96.40 623.78,96.40 620.08,89.80" fill="#00c000"/><polygon points="635.40,90.80 642.80,90.80 639.10,84.20" fill="#00c000"/><polygon points="654.42,96.60 661.82,96.60 658.12,90.00" fill="#00c000"/><polygon points="673.44,99.80 680.84,99.80 677.14,93.20" fill="#00c000"/><line x1="448.90" y1="86.60" x2="448.90" y2="106.60" stroke="#ff0000" stroke-width="1"/><line x1="445.90" y1="86.60" x2="451.90" y2="86.60" stroke="#ff0000" stroke-width="1"/><line x1="445.90" y1="106.60" x2="451.90" y2="106.60" stroke="#ff0000" stroke-width="1"/><line x1="467.92" y1="83.40" x2="467.92" y2="99.40" stroke="#ff0000" stroke-width="1"/><line x1="464.92" y1="83.40" x2="470.92" y2="83.40" stroke="#ff0000" stroke-width="1"/><line x1="464.92" y1="99.40" x2="470.92" y2="99.40" stroke="#ff0000" stroke-width="1"/><line x1="486.94" y1="77.30" x2="486.94" y2="89.30" stroke="#ff0000" stroke-width="1"/><line x1="483.94" y1="77.30" x2="489.94" y2="77.30" stroke="#ff0000" stroke-width="1"/><line x1="483.94" y1="89.30" x2="489.94" y2="89.30" stroke="#ff0000" stroke-width="1"/><line x1="505.96" y1="76.00" x2="505.96" y2="88.00" stroke="#ff0000" stroke-width="1"/><line x1="502.96" y1="76.00" x2="508.96" y2="76.00" stroke="#ff0000" stroke-width="1"/><line x1="502.96" y1="88.00" x2="508.96" y2="88.00" stroke="#ff0000" stroke-width="1"/><line x1="524.98" y1="72.90" x2="524.98" y2="82.90" stroke="#ff0000" stroke-width="1"/><line x1="521.98" y1="72.90" x2="527.98" y2="72.90" stroke="#ff0000" stroke-width="1"/><line x1="521.98" y1="82.90" x2="527.98" y2="82.90" stroke="#ff0000" stroke-width="1"/><line x1="544.00" y1="71.90" x2="544.00" y2="80.70" stroke="#ff0000" stroke-width="1"/><line x1="541.00" y1="71.90" x2="547.00" y2="71.90" stroke="#ff0000" stroke-width="1"/><line x1="541.00" y1="80.70" x2="547.00" y2="80.70" stroke="#ff0000" stroke-width="1"/><line x1="563.02" y1="72.40" x2="563.02" y2="74.40" stroke="#ff0000" stroke-width="1"/><line x1="560.02" y1="72.40" x2="566.02" y2="72.40" stroke="#ff0000" stroke-width="1"/><line x1="560.02" y1="74.40" x2="566.02" y2="74.40" stroke="#ff0000" stroke-width="1"/><line x1="582.04" y1="72.30" x2="582.04" y2="74.30" stroke="#ff0000" stroke-width="1"/><line x1="579.04" y1="72.30" x2="585.04" y2="72.30" stroke="#ff0000" stroke-width="1"/><line x1="579.04" y1="74.30" x2="585.04" y2="74.30" stroke="#ff0000" stroke-width="1"/><line x1="601.06" y1="70.70" x2="601.06" y2="72.70" stroke="#ff0000" stroke-width="1"/><line x1="598.06" y1="70.70" x2="604.06" y2="70.70" stroke="#ff0000" stroke-width="1"/><line x1="598.06" y1="72.70" x2="604.06" y2="72.70" stroke="#ff0000" stroke-width="1"/><line x1="620.08" y1="70.70" x2="620.08" y2="72.70" stroke="#ff0000" stroke-width="1"/><line x1="617.08" y1="70.70" x2="623.08" y2="70.70" stroke="#ff0000" stroke-width="1"/><line x1="617.08" y1="72.70" x2="623.08" y2="72.70" stroke="#ff0000" stroke-width="1"/><line x1="639.10" y1="70.70" x2="639.10" y2="72.70" stroke="#ff0000" stroke-width="1"/><line x1="636.10" y1="70.70" x2="642.10" y2="70.70" stroke="#ff0000" stroke-width="1"/><line x1="636.10" y1="72.70" x2="642.10" y2="72.70" stroke="#ff0000" stroke-width="1"/><line x1="658.12" y1="70.70" x2="658.12" y2="72.70" stroke="#ff0000" stroke-width="1"/><line x1="655.12" y1="70.70" x2="661.12" y2="70.70" stroke="#ff0000" stroke-width="1"/><line x1="655.12" y1="72.70" x2="661.12" y2="72.70" stroke="#ff0000" stroke-width="1"/><line x1="677.14" y1="72.90" x2="677.14" y2="74.90" stroke="#ff0000" stroke-width="1"/><line x1="674.14" y1="72.90" x2="680.14" y2="72.90" stroke="#ff0000" stroke-width="1"/><line x1="674.14" y1="74.90" x2="680.14" y2="74.90" stroke="#ff0000" stroke-width="1"/><polyline points="448.90,96.60 467.92,91.40 486.94,83.30 505.96,82.00 524.98,77.90 544.00,76.30 563.02,73.40 582.04,73.30 601.06,71.70 620.08,71.70 639.10,71.70 658.12,71.70 677.14,73.90" fill="none" stroke="#ff0000" stroke-width="2.0" stroke-linejoin="round"/><rect x="445.60" y="93.30" width="6.6" height="6.6" fill="#ff0000"/><rect x="464.62" y="88.10" width="6.6" height="6.6" fill="#ff0000"/><rect x="483.64" y="80.00" width="6.6" height="6.6" fill="#ff0000"/><rect x="502.66" y="78.70" width="6.6" height="6.6" fill="#ff0000"/><rect x="521.68" y="74.60" width="6.6" height="6.6" fill="#ff0000"/><rect x="540.70" y="73.00" width="6.6" height="6.6" fill="#ff0000"/><rect x="559.72" y="70.10" width="6.6" height="6.6" fill="#ff0000"/><rect x="578.74" y="70.00" width="6.6" height="6.6" fill="#ff0000"/><rect x="597.76" y="68.40" width="6.6" height="6.6" fill="#ff0000"/><rect x="616.78" y="68.40" width="6.6" height="6.6" fill="#ff0000"/><rect x="635.80" y="68.40" width="6.6" height="6.6" fill="#ff0000"/><rect x="654.82" y="68.40" width="6.6" height="6.6" fill="#ff0000"/><rect x="673.84" y="70.60" width="6.6" height="6.6" fill="#ff0000"/><polyline points="448.90,189.80 467.92,187.00 486.94,186.70 505.96,185.80 524.98,185.90 544.00,188.20 563.02,187.10 582.04,187.10 601.06,184.20 620.08,185.90 639.10,185.60 658.12,185.90 677.14,182.90" fill="none" stroke="#0000ff" stroke-width="2.0" stroke-linejoin="round"/><circle cx="448.90" cy="189.80" r="3.3" fill="#0000ff"/><circle cx="467.92" cy="187.00" r="3.3" fill="#0000ff"/><circle cx="486.94" cy="186.70" r="3.3" fill="#0000ff"/><circle cx="505.96" cy="185.80" r="3.3" fill="#0000ff"/><circle cx="524.98" cy="185.90" r="3.3" fill="#0000ff"/><circle cx="544.00" cy="188.20" r="3.3" fill="#0000ff"/><circle cx="563.02" cy="187.10" r="3.3" fill="#0000ff"/><circle cx="582.04" cy="187.10" r="3.3" fill="#0000ff"/><circle cx="601.06" cy="184.20" r="3.3" fill="#0000ff"/><circle cx="620.08" cy="185.90" r="3.3" fill="#0000ff"/><circle cx="639.10" cy="185.60" r="3.3" fill="#0000ff"/><circle cx="658.12" cy="185.90" r="3.3" fill="#0000ff"/><circle cx="677.14" cy="182.90" r="3.3" fill="#0000ff"/><line x1="520.19" y1="116.60" x2="521.49" y2="109.90" stroke="#333" stroke-width="0.85"/><line x1="522.02" y1="116.60" x2="523.32" y2="109.90" stroke="#333" stroke-width="0.85"/><line x1="525.29" y1="116.60" x2="526.59" y2="109.90" stroke="#333" stroke-width="0.85"/><line x1="527.12" y1="116.60" x2="528.42" y2="109.90" stroke="#333" stroke-width="0.85"/><line x1="519.30" y1="111.91" x2="528.90" y2="111.91" stroke="#111" stroke-width="1.0"/><line x1="519.30" y1="114.32" x2="528.90" y2="114.32" stroke="#111" stroke-width="1.0"/><line x1="537.24" y1="117.50" x2="538.54" y2="110.80" stroke="#333" stroke-width="0.85"/><line x1="539.07" y1="117.50" x2="540.37" y2="110.80" stroke="#333" stroke-width="0.85"/><line x1="542.34" y1="117.50" x2="543.64" y2="110.80" stroke="#333" stroke-width="0.85"/><line x1="544.17" y1="117.50" x2="545.47" y2="110.80" stroke="#333" stroke-width="0.85"/><line x1="547.44" y1="117.50" x2="548.74" y2="110.80" stroke="#333" stroke-width="0.85"/><line x1="549.27" y1="117.50" x2="550.57" y2="110.80" stroke="#333" stroke-width="0.85"/><line x1="536.35" y1="112.81" x2="551.05" y2="112.81" stroke="#111" stroke-width="1.0"/><line x1="536.35" y1="115.22" x2="551.05" y2="115.22" stroke="#111" stroke-width="1.0"/><line x1="557.14" y1="115.50" x2="558.44" y2="108.80" stroke="#333" stroke-width="0.85"/><line x1="558.97" y1="115.50" x2="560.27" y2="108.80" stroke="#333" stroke-width="0.85"/><line x1="562.24" y1="115.50" x2="563.54" y2="108.80" stroke="#333" stroke-width="0.85"/><line x1="564.07" y1="115.50" x2="565.37" y2="108.80" stroke="#333" stroke-width="0.85"/><line x1="567.34" y1="115.50" x2="568.64" y2="108.80" stroke="#333" stroke-width="0.85"/><line x1="569.17" y1="115.50" x2="570.47" y2="108.80" stroke="#333" stroke-width="0.85"/><line x1="556.25" y1="110.81" x2="570.95" y2="110.81" stroke="#111" stroke-width="1.0"/><line x1="556.25" y1="113.22" x2="570.95" y2="113.22" stroke="#111" stroke-width="1.0"/><line x1="575.04" y1="115.40" x2="576.34" y2="108.70" stroke="#333" stroke-width="0.85"/><line x1="576.87" y1="115.40" x2="578.17" y2="108.70" stroke="#333" stroke-width="0.85"/><line x1="580.14" y1="115.40" x2="581.44" y2="108.70" stroke="#333" stroke-width="0.85"/><line x1="581.97" y1="115.40" x2="583.27" y2="108.70" stroke="#333" stroke-width="0.85"/><line x1="585.24" y1="115.40" x2="586.54" y2="108.70" stroke="#333" stroke-width="0.85"/><line x1="587.07" y1="115.40" x2="588.37" y2="108.70" stroke="#333" stroke-width="0.85"/><line x1="574.15" y1="110.71" x2="588.85" y2="110.71" stroke="#111" stroke-width="1.0"/><line x1="574.15" y1="113.12" x2="588.85" y2="113.12" stroke="#111" stroke-width="1.0"/><line x1="595.04" y1="115.40" x2="596.34" y2="108.70" stroke="#333" stroke-width="0.85"/><line x1="596.87" y1="115.40" x2="598.17" y2="108.70" stroke="#333" stroke-width="0.85"/><line x1="600.14" y1="115.40" x2="601.44" y2="108.70" stroke="#333" stroke-width="0.85"/><line x1="601.97" y1="115.40" x2="603.27" y2="108.70" stroke="#333" stroke-width="0.85"/><line x1="605.24" y1="115.40" x2="606.54" y2="108.70" stroke="#333" stroke-width="0.85"/><line x1="607.07" y1="115.40" x2="608.37" y2="108.70" stroke="#333" stroke-width="0.85"/><line x1="594.15" y1="110.71" x2="608.85" y2="110.71" stroke="#111" stroke-width="1.0"/><line x1="594.15" y1="113.12" x2="608.85" y2="113.12" stroke="#111" stroke-width="1.0"/><line x1="613.74" y1="112.00" x2="615.04" y2="105.30" stroke="#333" stroke-width="0.85"/><line x1="615.57" y1="112.00" x2="616.87" y2="105.30" stroke="#333" stroke-width="0.85"/><line x1="618.84" y1="112.00" x2="620.14" y2="105.30" stroke="#333" stroke-width="0.85"/><line x1="620.67" y1="112.00" x2="621.97" y2="105.30" stroke="#333" stroke-width="0.85"/><line x1="623.94" y1="112.00" x2="625.24" y2="105.30" stroke="#333" stroke-width="0.85"/><line x1="625.77" y1="112.00" x2="627.07" y2="105.30" stroke="#333" stroke-width="0.85"/><line x1="612.85" y1="107.31" x2="627.55" y2="107.31" stroke="#111" stroke-width="1.0"/><line x1="612.85" y1="109.72" x2="627.55" y2="109.72" stroke="#111" stroke-width="1.0"/><line x1="632.74" y1="108.00" x2="634.04" y2="101.30" stroke="#333" stroke-width="0.85"/><line x1="634.57" y1="108.00" x2="635.87" y2="101.30" stroke="#333" stroke-width="0.85"/><line x1="637.84" y1="108.00" x2="639.14" y2="101.30" stroke="#333" stroke-width="0.85"/><line x1="639.67" y1="108.00" x2="640.97" y2="101.30" stroke="#333" stroke-width="0.85"/><line x1="642.94" y1="108.00" x2="644.24" y2="101.30" stroke="#333" stroke-width="0.85"/><line x1="644.77" y1="108.00" x2="646.07" y2="101.30" stroke="#333" stroke-width="0.85"/><line x1="631.85" y1="103.31" x2="646.55" y2="103.31" stroke="#111" stroke-width="1.0"/><line x1="631.85" y1="105.72" x2="646.55" y2="105.72" stroke="#111" stroke-width="1.0"/><line x1="651.74" y1="114.60" x2="653.04" y2="107.90" stroke="#333" stroke-width="0.85"/><line x1="653.57" y1="114.60" x2="654.87" y2="107.90" stroke="#333" stroke-width="0.85"/><line x1="656.84" y1="114.60" x2="658.14" y2="107.90" stroke="#333" stroke-width="0.85"/><line x1="658.67" y1="114.60" x2="659.97" y2="107.90" stroke="#333" stroke-width="0.85"/><line x1="661.94" y1="114.60" x2="663.24" y2="107.90" stroke="#333" stroke-width="0.85"/><line x1="663.77" y1="114.60" x2="665.07" y2="107.90" stroke="#333" stroke-width="0.85"/><line x1="650.85" y1="109.91" x2="665.55" y2="109.91" stroke="#111" stroke-width="1.0"/><line x1="650.85" y1="112.32" x2="665.55" y2="112.32" stroke="#111" stroke-width="1.0"/><line x1="671.34" y1="119.10" x2="672.64" y2="112.40" stroke="#333" stroke-width="0.85"/><line x1="673.17" y1="119.10" x2="674.47" y2="112.40" stroke="#333" stroke-width="0.85"/><line x1="676.44" y1="119.10" x2="677.74" y2="112.40" stroke="#333" stroke-width="0.85"/><line x1="678.27" y1="119.10" x2="679.57" y2="112.40" stroke="#333" stroke-width="0.85"/><line x1="681.54" y1="119.10" x2="682.84" y2="112.40" stroke="#333" stroke-width="0.85"/><line x1="683.37" y1="119.10" x2="684.67" y2="112.40" stroke="#333" stroke-width="0.85"/><line x1="670.45" y1="114.41" x2="685.15" y2="114.41" stroke="#111" stroke-width="1.0"/><line x1="670.45" y1="116.82" x2="685.15" y2="116.82" stroke="#111" stroke-width="1.0"/><path d="M681 64.8 H688.7 V83.1 H681 M681 87.2 H688.7 V105.4 H681" stroke="#000" stroke-width="2.4" fill="none"/><polygon points="697.20,72.00 697.88,73.53 699.54,73.35 698.55,74.70 699.54,76.05 697.88,75.87 697.20,77.40 696.53,75.87 694.86,76.05 695.85,74.70 694.86,73.35 696.53,73.53" fill="#111"/><polygon points="702.20,72.00 702.88,73.53 704.54,73.35 703.55,74.70 704.54,76.05 702.88,75.87 702.20,77.40 701.53,75.87 699.86,76.05 700.85,74.70 699.86,73.35 701.53,73.53" fill="#111"/><polygon points="707.20,72.00 707.88,73.53 709.54,73.35 708.55,74.70 709.54,76.05 707.88,75.87 707.20,77.40 706.53,75.87 704.86,76.05 705.85,74.70 704.86,73.35 706.53,73.53" fill="#111"/><polygon points="697.20,94.10 697.88,95.63 699.54,95.45 698.55,96.80 699.54,98.15 697.88,97.97 697.20,99.50 696.53,97.97 694.86,98.15 695.85,96.80 694.86,95.45 696.53,95.63" fill="#111"/><polygon points="702.20,94.10 702.88,95.63 704.54,95.45 703.55,96.80 704.54,98.15 702.88,97.97 702.20,99.50 701.53,97.97 699.86,98.15 700.85,96.80 699.86,95.45 701.53,95.63" fill="#111"/><polygon points="707.20,94.10 707.88,95.63 709.54,95.45 708.55,96.80 709.54,98.15 707.88,97.97 707.20,99.50 706.53,97.97 704.86,98.15 705.85,96.80 704.86,95.45 706.53,95.63" fill="#111"/><line x1="729" y1="61.8" x2="746.7" y2="61.8" stroke="#0000ff" stroke-width="2"/><circle cx="737.60" cy="61.80" r="3.3" fill="#0000ff"/><text x="756.8" y="66.7" class="lg" style="font-size:14px">N</text><line x1="729" y1="84.2" x2="746.7" y2="84.2" stroke="#ff0000" stroke-width="2"/><rect x="734.50" y="81.10" width="6.2" height="6.2" fill="#ff0000"/><text x="756.8" y="89.1" class="lg" style="font-size:14px">DV</text><line x1="729" y1="106.9" x2="746.7" y2="106.9" stroke="#00c000" stroke-width="2"/><polygon points="734.10,110.30 741.10,110.30 737.60,104.30" fill="#00c000"/><text x="756.8" y="111.8" class="lg" style="font-size:14px">DT</text><rect x="552.5" y="1.5" width="31" height="31" fill="none" stroke="#333" stroke-width="1.2"/><text x="0" y="0" transform="translate(568.5,24.2) scale(0.92,1)" class="box" style="font-size:21.5px;stroke:#000;stroke-width:0.7" text-anchor="middle">B</text>
</svg>
</body></html>
